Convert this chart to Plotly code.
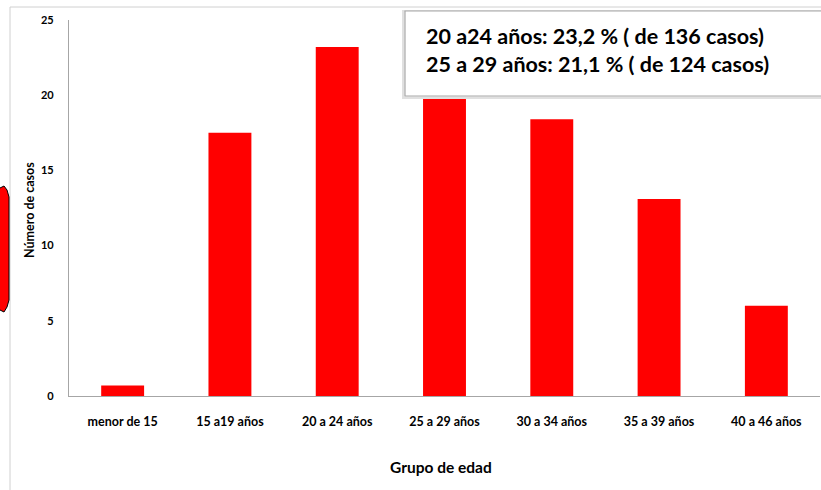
import plotly.graph_objects as go

categories = ["menor de 15", "15 a19 años", "20 a 24 años", "25 a 29 años",
              "30 a 34 años", "35 a 39 años", "40 a 46 años"]
values = [0.7, 17.5, 23.2, 21.1, 18.4, 13.1, 6.0]
y_ticks = [0, 5, 10, 15, 20, 25]
box_lines = ["20 a24 años: 23,2 % ( de 136 casos)",
             "25 a 29 años: 21,1 % ( de 124 casos)"]
x_title = "Grupo de edad"
y_title = "Número de casos"

W, H = 821, 490
L, R, T, B = 69, 1, 20, 94
PW, PH = W - L - R, H - T - B

def px(x):
    return (x - L) / PW

def py(y):
    return (H - B - y) / PH

FONT = "Lato"

fig = go.Figure(go.Bar(
    x=categories, y=values, marker=dict(color="#ff0000", line=dict(width=0)),
    width=0.4,
))

shapes = []
# outer chart-area frame
shapes.append(dict(type="rect", xref="paper", yref="paper",
                   x0=px(10), x1=px(840), y0=py(7), y1=py(510),
                   line=dict(color="#d0d0d0", width=1), fillcolor="rgba(0,0,0,0)",
                   layer="below"))
# red callout piece on the left edge
path_pts = [(-6, 190), (0, 188), (4, 186), (7, 190), (9, 197), (9, 300),
            (7, 307), (4, 312), (0, 310), (-6, 312)]
path = "M " + " L ".join(f"{px(a)},{py(b)}" for a, b in path_pts) + " Z"
shapes.append(dict(type="path", xref="paper", yref="paper", path=path,
                   fillcolor="#ff0000", line=dict(color="black", width=1), layer="above"))
# shadow for text box
shapes.append(dict(type="rect", xref="paper", yref="paper",
                   x0=px(403), x1=px(840), y0=py(11), y1=py(98),
                   line=dict(color="#e0e0e0", width=2), fillcolor="#eeeeee", layer="above"))
# text box
shapes.append(dict(type="rect", xref="paper", yref="paper",
                   x0=px(405), x1=px(840), y0=py(11), y1=py(96),
                   line=dict(color="#a8a8a8", width=1.2), fillcolor="white", layer="above"))

annotations = []
for i, t in enumerate(box_lines):
    annotations.append(dict(text=f"<b>{t}</b>", xref="paper", yref="paper",
                            x=px(424), y=py(36 + 28 * i), xanchor="left", yanchor="middle",
                            showarrow=False, font=dict(family=FONT, size=21.5, color="black")))
annotations.append(dict(text=f"<b>{y_title}</b>", xref="paper", yref="paper",
                        x=px(30), y=py(210), xanchor="center", yanchor="middle",
                        textangle=-90, showarrow=False,
                        font=dict(family=FONT, size=12.5, color="black")))
annotations.append(dict(text=f"<b>{x_title}</b>", xref="paper", yref="paper",
                        x=px(441), y=py(467), xanchor="center", yanchor="middle",
                        showarrow=False, font=dict(family=FONT, size=15.5, color="black")))

fig.update_layout(
    width=W, height=H,
    margin=dict(l=L, r=R, t=T, b=B, pad=0),
    paper_bgcolor="white", plot_bgcolor="white",
    showlegend=False,
    shapes=shapes, annotations=annotations,
    bargap=0.6,
    xaxis=dict(showgrid=False, showline=True, linecolor="#a6a6a6", linewidth=1.2,
               ticks="", ticklabelstandoff=14,
               tickfont=dict(family=FONT, size=12.5, color="black", weight="bold"),
               zeroline=False, fixedrange=True),
    yaxis=dict(range=[0, 25], tickvals=y_ticks, showgrid=False, showline=True,
               linecolor="#a6a6a6", linewidth=1.2, ticks="", ticklabelstandoff=12,
               tickfont=dict(family=FONT, size=11, color="black", weight="bold"),
               zeroline=False, fixedrange=True),
)

fig.write_html("out.html", config={"displayModeBar": False},
               post_script="document.body.style.margin='0';document.body.style.overflow='hidden';")
